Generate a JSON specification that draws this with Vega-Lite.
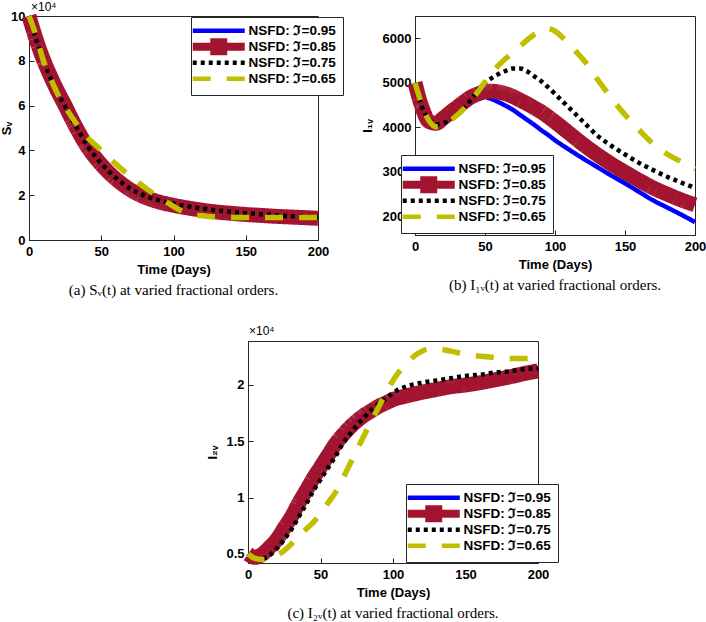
{
  "$schema": "https://vega.github.io/schema/vega-lite/v6.json",
  "background": "white",
  "padding": {"left": 0, "top": 0, "right": 0, "bottom": 0},
  "config": {
    "font": "Liberation Sans",
    "view": {"stroke": "#262626", "strokeWidth": 1},
    "axis": {
      "grid": false, "labelFont": "Liberation Sans", "labelFontSize": 13, "labelFontWeight": "bold", "labelColor": "black",
      "titleFont": "Liberation Sans", "titleFontSize": 13, "titleFontWeight": "bold", "titleColor": "black",
      "domainColor": "#262626", "tickColor": "#262626", "tickSize": -5, "labelFlush": false, "labelOverlap": false
    },
    "axisX": {"labelPadding": 10.5, "titlePadding": 5},
    "axisY": {"labelPadding": 9},
    "legend": {
      "fillColor": "white", "strokeColor": "#262626", "padding": 7, "rowPadding": -4.3, "gridAlign": "all",
      "symbolType": "M-13,0H13M0,-3.125M0,3.125", "symbolSize": 16, "symbolStrokeWidth": 4.5, "symbolOffset": 14, "labelOffset": 23,
      "labelFont": "Liberation Sans", "labelFontSize": 13.5, "labelFontWeight": "bold", "labelColor": "black", "labelLimit": 200
    }
  },
  "datasets": {
    "a": [
      {"t":0,"s":"0.95","v":100000},{"t":5,"s":"0.95","v":89500},{"t":10,"s":"0.95","v":80500},{"t":15,"s":"0.95","v":73000},{"t":20,"s":"0.95","v":66200},{"t":25,"s":"0.95","v":60000},{"t":30,"s":"0.95","v":53500},{"t":35,"s":"0.95","v":47500},{"t":40,"s":"0.95","v":42000},{"t":45,"s":"0.95","v":37500},{"t":50,"s":"0.95","v":33700},{"t":55,"s":"0.95","v":30300},{"t":60,"s":"0.95","v":27300},{"t":70,"s":"0.95","v":22500},{"t":80,"s":"0.95","v":19200},{"t":90,"s":"0.95","v":17000},{"t":100,"s":"0.95","v":15500},{"t":110,"s":"0.95","v":14300},{"t":120,"s":"0.95","v":13300},{"t":130,"s":"0.95","v":12500},{"t":140,"s":"0.95","v":11900},{"t":150,"s":"0.95","v":11400},{"t":160,"s":"0.95","v":11000},{"t":170,"s":"0.95","v":10600},{"t":180,"s":"0.95","v":10300},{"t":190,"s":"0.95","v":10000},{"t":200,"s":"0.95","v":9700},
      {"t":0,"s":"0.85","v":100000},{"t":5,"s":"0.85","v":89500},{"t":10,"s":"0.85","v":80500},{"t":15,"s":"0.85","v":73000},{"t":20,"s":"0.85","v":66200},{"t":25,"s":"0.85","v":60000},{"t":30,"s":"0.85","v":53500},{"t":35,"s":"0.85","v":47500},{"t":40,"s":"0.85","v":42000},{"t":45,"s":"0.85","v":37500},{"t":50,"s":"0.85","v":33700},{"t":55,"s":"0.85","v":30300},{"t":60,"s":"0.85","v":27300},{"t":70,"s":"0.85","v":22500},{"t":80,"s":"0.85","v":19200},{"t":90,"s":"0.85","v":17000},{"t":100,"s":"0.85","v":15500},{"t":110,"s":"0.85","v":14300},{"t":120,"s":"0.85","v":13300},{"t":130,"s":"0.85","v":12500},{"t":140,"s":"0.85","v":11900},{"t":150,"s":"0.85","v":11400},{"t":160,"s":"0.85","v":11000},{"t":170,"s":"0.85","v":10600},{"t":180,"s":"0.85","v":10300},{"t":190,"s":"0.85","v":10000},{"t":200,"s":"0.85","v":9700},
      {"t":0,"s":"0.75","v":100000},{"t":5,"s":"0.75","v":89500},{"t":10,"s":"0.75","v":80000},{"t":15,"s":"0.75","v":72200},{"t":20,"s":"0.75","v":65500},{"t":25,"s":"0.75","v":59500},{"t":30,"s":"0.75","v":53500},{"t":35,"s":"0.75","v":48000},{"t":40,"s":"0.75","v":42500},{"t":45,"s":"0.75","v":38000},{"t":50,"s":"0.75","v":34200},{"t":55,"s":"0.75","v":30800},{"t":60,"s":"0.75","v":27800},{"t":70,"s":"0.75","v":23000},{"t":80,"s":"0.75","v":19800},{"t":90,"s":"0.75","v":17700},{"t":100,"s":"0.75","v":16200},{"t":110,"s":"0.75","v":15000},{"t":120,"s":"0.75","v":14000},{"t":130,"s":"0.75","v":13200},{"t":140,"s":"0.75","v":12600},{"t":150,"s":"0.75","v":12000},{"t":160,"s":"0.75","v":11500},{"t":170,"s":"0.75","v":11100},{"t":180,"s":"0.75","v":10700},{"t":190,"s":"0.75","v":10400},{"t":200,"s":"0.75","v":10100},
      {"t":0,"s":"0.65","v":100000},{"t":5,"s":"0.65","v":91000},{"t":10,"s":"0.65","v":80000},{"t":15,"s":"0.65","v":72000},{"t":20,"s":"0.65","v":65000},{"t":25,"s":"0.65","v":59500},{"t":30,"s":"0.65","v":54500},{"t":35,"s":"0.65","v":50000},{"t":40,"s":"0.65","v":46000},{"t":45,"s":"0.65","v":43000},{"t":50,"s":"0.65","v":40000},{"t":55,"s":"0.65","v":37000},{"t":60,"s":"0.65","v":34000},{"t":65,"s":"0.65","v":31200},{"t":70,"s":"0.65","v":28600},{"t":75,"s":"0.65","v":26000},{"t":80,"s":"0.65","v":23500},{"t":85,"s":"0.65","v":21200},{"t":90,"s":"0.65","v":19000},{"t":95,"s":"0.65","v":17000},{"t":100,"s":"0.65","v":15000},{"t":105,"s":"0.65","v":13200},{"t":110,"s":"0.65","v":12000},{"t":115,"s":"0.65","v":11200},{"t":120,"s":"0.65","v":10800},{"t":130,"s":"0.65","v":10200},{"t":140,"s":"0.65","v":10000},{"t":150,"s":"0.65","v":10000},{"t":160,"s":"0.65","v":10000},{"t":170,"s":"0.65","v":10000},{"t":180,"s":"0.65","v":10000},{"t":190,"s":"0.65","v":10000},{"t":200,"s":"0.65","v":10000}
    ],
    "b": [
      {"t":0,"s":"0.95","v":5000},{"t":5,"s":"0.95","v":4450},{"t":10,"s":"0.95","v":4130},{"t":15,"s":"0.95","v":4090},{"t":20,"s":"0.95","v":4200},{"t":25,"s":"0.95","v":4330},{"t":30,"s":"0.95","v":4450},{"t":35,"s":"0.95","v":4570},{"t":40,"s":"0.95","v":4650},{"t":45,"s":"0.95","v":4690},{"t":50,"s":"0.95","v":4680},{"t":55,"s":"0.95","v":4630},{"t":60,"s":"0.95","v":4560},{"t":65,"s":"0.95","v":4480},{"t":70,"s":"0.95","v":4390},{"t":75,"s":"0.95","v":4280},{"t":80,"s":"0.95","v":4170},{"t":85,"s":"0.95","v":4060},{"t":90,"s":"0.95","v":3940},{"t":95,"s":"0.95","v":3830},{"t":100,"s":"0.95","v":3710},{"t":110,"s":"0.95","v":3500},{"t":120,"s":"0.95","v":3300},{"t":130,"s":"0.95","v":3110},{"t":140,"s":"0.95","v":2920},{"t":150,"s":"0.95","v":2740},{"t":160,"s":"0.95","v":2550},{"t":170,"s":"0.95","v":2360},{"t":180,"s":"0.95","v":2200},{"t":190,"s":"0.95","v":2040},{"t":200,"s":"0.95","v":1870},
      {"t":0,"s":"0.85","v":5000},{"t":5,"s":"0.85","v":4450},{"t":10,"s":"0.85","v":4130},{"t":15,"s":"0.85","v":4090},{"t":20,"s":"0.85","v":4200},{"t":25,"s":"0.85","v":4330},{"t":30,"s":"0.85","v":4450},{"t":35,"s":"0.85","v":4570},{"t":40,"s":"0.85","v":4680},{"t":45,"s":"0.85","v":4750},{"t":50,"s":"0.85","v":4800},{"t":55,"s":"0.85","v":4810},{"t":60,"s":"0.85","v":4790},{"t":65,"s":"0.85","v":4750},{"t":70,"s":"0.85","v":4690},{"t":75,"s":"0.85","v":4610},{"t":80,"s":"0.85","v":4530},{"t":85,"s":"0.85","v":4440},{"t":90,"s":"0.85","v":4350},{"t":95,"s":"0.85","v":4240},{"t":100,"s":"0.85","v":4120},{"t":110,"s":"0.85","v":3870},{"t":120,"s":"0.85","v":3620},{"t":130,"s":"0.85","v":3390},{"t":140,"s":"0.85","v":3180},{"t":150,"s":"0.85","v":2990},{"t":160,"s":"0.85","v":2810},{"t":170,"s":"0.85","v":2640},{"t":180,"s":"0.85","v":2500},{"t":190,"s":"0.85","v":2370},{"t":200,"s":"0.85","v":2260},
      {"t":0,"s":"0.75","v":5000},{"t":5,"s":"0.75","v":4450},{"t":10,"s":"0.75","v":4180},{"t":15,"s":"0.75","v":4070},{"t":20,"s":"0.75","v":4090},{"t":25,"s":"0.75","v":4180},{"t":30,"s":"0.75","v":4280},{"t":35,"s":"0.75","v":4430},{"t":40,"s":"0.75","v":4620},{"t":45,"s":"0.75","v":4830},{"t":50,"s":"0.75","v":5000},{"t":55,"s":"0.75","v":5110},{"t":60,"s":"0.75","v":5200},{"t":65,"s":"0.75","v":5270},{"t":70,"s":"0.75","v":5320},{"t":75,"s":"0.75","v":5320},{"t":80,"s":"0.75","v":5260},{"t":85,"s":"0.75","v":5150},{"t":90,"s":"0.75","v":5040},{"t":95,"s":"0.75","v":4900},{"t":100,"s":"0.75","v":4750},{"t":110,"s":"0.75","v":4440},{"t":120,"s":"0.75","v":4130},{"t":130,"s":"0.75","v":3820},{"t":140,"s":"0.75","v":3590},{"t":150,"s":"0.75","v":3390},{"t":160,"s":"0.75","v":3200},{"t":170,"s":"0.75","v":3040},{"t":180,"s":"0.75","v":2890},{"t":190,"s":"0.75","v":2760},{"t":200,"s":"0.75","v":2640},
      {"t":0,"s":"0.65","v":5000},{"t":5,"s":"0.65","v":4500},{"t":10,"s":"0.65","v":4150},{"t":15,"s":"0.65","v":4010},{"t":20,"s":"0.65","v":4030},{"t":25,"s":"0.65","v":4150},{"t":30,"s":"0.65","v":4270},{"t":35,"s":"0.65","v":4420},{"t":40,"s":"0.65","v":4600},{"t":45,"s":"0.65","v":4800},{"t":50,"s":"0.65","v":5020},{"t":55,"s":"0.65","v":5220},{"t":60,"s":"0.65","v":5400},{"t":65,"s":"0.65","v":5550},{"t":70,"s":"0.65","v":5680},{"t":75,"s":"0.65","v":5820},{"t":80,"s":"0.65","v":5960},{"t":85,"s":"0.65","v":6080},{"t":90,"s":"0.65","v":6180},{"t":95,"s":"0.65","v":6220},{"t":100,"s":"0.65","v":6160},{"t":105,"s":"0.65","v":6030},{"t":110,"s":"0.65","v":5870},{"t":115,"s":"0.65","v":5700},{"t":120,"s":"0.65","v":5530},{"t":130,"s":"0.65","v":5090},{"t":140,"s":"0.65","v":4670},{"t":150,"s":"0.65","v":4280},{"t":160,"s":"0.65","v":3940},{"t":170,"s":"0.65","v":3630},{"t":180,"s":"0.65","v":3400},{"t":190,"s":"0.65","v":3230},{"t":200,"s":"0.65","v":3060}
    ],
    "c": [
      {"t":0,"s":"0.95","v":5000},{"t":5,"s":"0.95","v":4700},{"t":10,"s":"0.95","v":5000},{"t":15,"s":"0.95","v":5600},{"t":20,"s":"0.95","v":6300},{"t":25,"s":"0.95","v":7300},{"t":30,"s":"0.95","v":8300},{"t":35,"s":"0.95","v":9500},{"t":40,"s":"0.95","v":10600},{"t":45,"s":"0.95","v":11700},{"t":50,"s":"0.95","v":12700},{"t":55,"s":"0.95","v":13700},{"t":60,"s":"0.95","v":14700},{"t":65,"s":"0.95","v":15500},{"t":70,"s":"0.95","v":16200},{"t":75,"s":"0.95","v":16800},{"t":80,"s":"0.95","v":17300},{"t":85,"s":"0.95","v":17700},{"t":90,"s":"0.95","v":18100},{"t":95,"s":"0.95","v":18400},{"t":100,"s":"0.95","v":18700},{"t":110,"s":"0.95","v":19050},{"t":120,"s":"0.95","v":19350},{"t":130,"s":"0.95","v":19600},{"t":140,"s":"0.95","v":19850},{"t":150,"s":"0.95","v":20000},{"t":160,"s":"0.95","v":20200},{"t":170,"s":"0.95","v":20450},{"t":180,"s":"0.95","v":20700},{"t":190,"s":"0.95","v":21000},{"t":200,"s":"0.95","v":21250},
      {"t":0,"s":"0.85","v":5000},{"t":5,"s":"0.85","v":4700},{"t":10,"s":"0.85","v":5000},{"t":15,"s":"0.85","v":5600},{"t":20,"s":"0.85","v":6300},{"t":25,"s":"0.85","v":7300},{"t":30,"s":"0.85","v":8300},{"t":35,"s":"0.85","v":9500},{"t":40,"s":"0.85","v":10600},{"t":45,"s":"0.85","v":11700},{"t":50,"s":"0.85","v":12700},{"t":55,"s":"0.85","v":13700},{"t":60,"s":"0.85","v":14700},{"t":65,"s":"0.85","v":15500},{"t":70,"s":"0.85","v":16200},{"t":75,"s":"0.85","v":16800},{"t":80,"s":"0.85","v":17300},{"t":85,"s":"0.85","v":17700},{"t":90,"s":"0.85","v":18100},{"t":95,"s":"0.85","v":18400},{"t":100,"s":"0.85","v":18700},{"t":110,"s":"0.85","v":19050},{"t":120,"s":"0.85","v":19350},{"t":130,"s":"0.85","v":19600},{"t":140,"s":"0.85","v":19850},{"t":150,"s":"0.85","v":20000},{"t":160,"s":"0.85","v":20200},{"t":170,"s":"0.85","v":20450},{"t":180,"s":"0.85","v":20700},{"t":190,"s":"0.85","v":21000},{"t":200,"s":"0.85","v":21250},
      {"t":0,"s":"0.75","v":5000},{"t":5,"s":"0.75","v":4600},{"t":10,"s":"0.75","v":4600},{"t":15,"s":"0.75","v":4900},{"t":20,"s":"0.75","v":5500},{"t":25,"s":"0.75","v":6300},{"t":30,"s":"0.75","v":7200},{"t":35,"s":"0.75","v":8300},{"t":40,"s":"0.75","v":9400},{"t":45,"s":"0.75","v":10600},{"t":50,"s":"0.75","v":11600},{"t":55,"s":"0.75","v":12600},{"t":60,"s":"0.75","v":13600},{"t":65,"s":"0.75","v":14700},{"t":70,"s":"0.75","v":15600},{"t":75,"s":"0.75","v":16400},{"t":80,"s":"0.75","v":17100},{"t":85,"s":"0.75","v":17800},{"t":90,"s":"0.75","v":18300},{"t":95,"s":"0.75","v":18800},{"t":100,"s":"0.75","v":19300},{"t":110,"s":"0.75","v":19900},{"t":120,"s":"0.75","v":20200},{"t":130,"s":"0.75","v":20400},{"t":140,"s":"0.75","v":20600},{"t":150,"s":"0.75","v":20800},{"t":160,"s":"0.75","v":20900},{"t":170,"s":"0.75","v":21100},{"t":180,"s":"0.75","v":21200},{"t":190,"s":"0.75","v":21400},{"t":200,"s":"0.75","v":21500},
      {"t":0,"s":"0.65","v":5000},{"t":5,"s":"0.65","v":4600},{"t":10,"s":"0.65","v":4500},{"t":15,"s":"0.65","v":4600},{"t":20,"s":"0.65","v":4900},{"t":25,"s":"0.65","v":5300},{"t":30,"s":"0.65","v":5900},{"t":35,"s":"0.65","v":6600},{"t":40,"s":"0.65","v":7200},{"t":45,"s":"0.65","v":7800},{"t":50,"s":"0.65","v":8600},{"t":55,"s":"0.65","v":9500},{"t":60,"s":"0.65","v":10400},{"t":65,"s":"0.65","v":11600},{"t":70,"s":"0.65","v":12900},{"t":75,"s":"0.65","v":14200},{"t":80,"s":"0.65","v":15500},{"t":85,"s":"0.65","v":16800},{"t":90,"s":"0.65","v":18000},{"t":95,"s":"0.65","v":19300},{"t":100,"s":"0.65","v":20400},{"t":105,"s":"0.65","v":21300},{"t":110,"s":"0.65","v":22000},{"t":115,"s":"0.65","v":22600},{"t":120,"s":"0.65","v":23000},{"t":125,"s":"0.65","v":23200},{"t":130,"s":"0.65","v":23200},{"t":140,"s":"0.65","v":23000},{"t":150,"s":"0.65","v":22700},{"t":160,"s":"0.65","v":22550},{"t":170,"s":"0.65","v":22450},{"t":180,"s":"0.65","v":22350},{"t":190,"s":"0.65","v":22350},{"t":200,"s":"0.65","v":22400}
    ]
  },
  "spacing": 26,
  "resolve": {"scale": {"color": "independent", "strokeDash": "independent"}},
  "vconcat": [
    {
      "spacing": 97,
      "bounds": "flush",
      "resolve": {"scale": {"color": "independent", "strokeDash": "independent"}},
      "hconcat": [
        {
          "width": 289, "height": 224,
          "title": {"text": "(a) Sᵥ(t) at varied fractional orders.", "orient": "bottom", "anchor": "middle", "offset": 6, "font": "Liberation Serif", "fontSize": 15, "fontWeight": "normal", "color": "black"},
          "layer": [
            {
              "data": {"name": "a"}, "transform": [{"filter": "datum.s == '0.95'"}],
              "mark": {"type": "line", "interpolate": "monotone", "strokeJoin": "round", "strokeWidth": 4.5},
              "encoding": {
                "x": {"field": "t", "type": "quantitative", "scale": {"domain": [0, 200], "nice": false}, "axis": {"title": "Time (Days)", "values": [0, 50, 100, 150, 200], "format": "d"}},
                "y": {"field": "v", "type": "quantitative", "scale": {"domain": [0, 100000], "nice": false}, "axis": {"title": "Sᵥ", "values": [0, 20000, 40000, 60000, 80000, 100000], "labelExpr": "datum.value / 10000", "titlePadding": -3}},
                "color": {"field": "s", "type": "nominal", "scale": {"domain": ["0.95", "0.85", "0.75", "0.65"], "range": ["#0000FF", "#A2142F", "#000000", "#BFBF00"]},
                  "legend": {"title": null, "orient": "none", "legendX": 162, "legendY": 1, "labelExpr": "'NSFD: ℑ=' + datum.label",
                    "encode": {"symbols": {"update": {"strokeJoin": {"value": "round"}, "shape": {"signal": "datum.value == '0.85' ? 'M-13,-0.875H13M-13,0H13M-13,0.875H13M-4.25,-3.125H4.25M-4.25,-2H4.25M-4.25,-1H4.25M-4.25,1H4.25M-4.25,2H4.25M-4.25,3.125H4.25' : 'M-13,0H13M0,-3.125M0,3.125'"}}}}}},
                "strokeDash": {"field": "s", "type": "nominal", "scale": {"domain": ["0.95", "0.85", "0.75", "0.65"], "range": [[1, 0], [1, 0], [4, 4], [18, 16]]}}
              }
            },
            {
              "data": {"name": "a"}, "transform": [{"filter": "datum.s == '0.85'"}],
              "mark": {"type": "line", "interpolate": "monotone", "strokeJoin": "round", "strokeWidth": 15},
              "encoding": {"x": {"field": "t", "type": "quantitative"}, "y": {"field": "v", "type": "quantitative"}, "color": {"field": "s", "type": "nominal", "legend": null}, "strokeDash": {"field": "s", "type": "nominal", "legend": null}}
            },
            {
              "data": {"name": "a"}, "transform": [{"filter": "datum.s == '0.75'"}],
              "mark": {"type": "line", "interpolate": "monotone", "strokeJoin": "round", "strokeWidth": 4.5},
              "encoding": {"x": {"field": "t", "type": "quantitative"}, "y": {"field": "v", "type": "quantitative"}, "color": {"field": "s", "type": "nominal", "legend": null}, "strokeDash": {"field": "s", "type": "nominal", "legend": null}}
            },
            {
              "data": {"name": "a"}, "transform": [{"filter": "datum.s == '0.65'"}],
              "mark": {"type": "line", "interpolate": "monotone", "strokeJoin": "round", "strokeWidth": 5.5},
              "encoding": {"x": {"field": "t", "type": "quantitative"}, "y": {"field": "v", "type": "quantitative"}, "color": {"field": "s", "type": "nominal", "legend": null}, "strokeDash": {"field": "s", "type": "nominal", "legend": null}}
            },
            {
              "data": {"values": [{}]},
              "mark": {"type": "text", "align": "left", "baseline": "bottom", "dx": 2, "dy": -2, "font": "Liberation Sans", "fontSize": 12, "color": "black"},
              "encoding": {"x": {"datum": 0}, "y": {"datum": 100000}, "text": {"value": "×10⁴"}}
            }
          ]
        },
        {
          "width": 280, "height": 219,
          "title": {"text": "(b) I₁ᵥ(t) at varied fractional orders.", "orient": "bottom", "anchor": "middle", "offset": 6, "font": "Liberation Serif", "fontSize": 15, "fontWeight": "normal", "color": "black"},
          "data": {"name": "b"},
          "encoding": {
            "x": {"field": "t", "type": "quantitative", "scale": {"domain": [0, 200], "nice": false}, "axis": {"title": "Time (Days)", "values": [0, 50, 100, 150, 200], "format": "d"}},
            "y": {"field": "v", "type": "quantitative", "scale": {"domain": [1580, 6500], "nice": false}, "axis": {"title": "I₁ᵥ", "values": [2000, 3000, 4000, 5000, 6000], "format": "d", "titlePadding": 8}}
          },
          "layer": [
            {
              "transform": [{"filter": "datum.s == '0.95'"}],
              "mark": {"type": "line", "interpolate": "monotone", "strokeJoin": "round", "strokeWidth": 4.5},
              "encoding": {
                "color": {"field": "s", "type": "nominal", "scale": {"domain": ["0.95", "0.85", "0.75", "0.65"], "range": ["#0000FF", "#A2142F", "#000000", "#BFBF00"]},
                  "legend": {"title": null, "orient": "none", "legendX": -14, "legendY": 139, "labelExpr": "'NSFD: ℑ=' + datum.label",
                    "encode": {"symbols": {"update": {"strokeJoin": {"value": "round"}, "shape": {"signal": "datum.value == '0.85' ? 'M-13,-0.875H13M-13,0H13M-13,0.875H13M-4.25,-3.125H4.25M-4.25,-2H4.25M-4.25,-1H4.25M-4.25,1H4.25M-4.25,2H4.25M-4.25,3.125H4.25' : 'M-13,0H13M0,-3.125M0,3.125'"}}}}}},
                "strokeDash": {"field": "s", "type": "nominal", "scale": {"domain": ["0.95", "0.85", "0.75", "0.65"], "range": [[1, 0], [1, 0], [4, 4], [18, 16]]}}
              }
            },
            {
              "transform": [{"filter": "datum.s == '0.85'"}],
              "mark": {"type": "line", "interpolate": "monotone", "strokeJoin": "round", "strokeWidth": 15},
              "encoding": {"color": {"field": "s", "type": "nominal", "legend": null}, "strokeDash": {"field": "s", "type": "nominal", "legend": null}}
            },
            {
              "transform": [{"filter": "datum.s == '0.75'"}],
              "mark": {"type": "line", "interpolate": "monotone", "strokeJoin": "round", "strokeWidth": 4.5},
              "encoding": {"color": {"field": "s", "type": "nominal", "legend": null}, "strokeDash": {"field": "s", "type": "nominal", "legend": null}}
            },
            {
              "transform": [{"filter": "datum.s == '0.65'"}],
              "mark": {"type": "line", "interpolate": "monotone", "strokeJoin": "round", "strokeWidth": 5.5},
              "encoding": {"color": {"field": "s", "type": "nominal", "legend": null}, "strokeDash": {"field": "s", "type": "nominal", "legend": null}}
            }
          ]
        }
      ]
    },
    {
      "spacing": 119,
      "bounds": "flush",
      "resolve": {"scale": {"color": "independent", "strokeDash": "independent"}},
      "hconcat": [
        {
          "width": 100, "height": 10,
          "data": {"values": []},
          "mark": "point",
          "view": {"stroke": null}
        },
        {
          "width": 290, "height": 222,
          "title": {"text": "(c) I₂ᵥ(t) at varied fractional orders.", "orient": "bottom", "anchor": "middle", "offset": 6, "font": "Liberation Serif", "fontSize": 15, "fontWeight": "normal", "color": "black"},
          "layer": [
            {
              "data": {"name": "c"}, "transform": [{"filter": "datum.s == '0.95'"}],
              "mark": {"type": "line", "interpolate": "monotone", "strokeJoin": "round", "strokeWidth": 4.5},
              "encoding": {
                "x": {"field": "t", "type": "quantitative", "scale": {"domain": [0, 200], "nice": false}, "axis": {"title": "Time (Days)", "values": [0, 50, 100, 150, 200], "format": "d"}},
                "y": {"field": "v", "type": "quantitative", "scale": {"domain": [4200, 23900], "nice": false}, "axis": {"title": "I₂ᵥ", "values": [5000, 10000, 15000, 20000], "labelExpr": "datum.value / 10000", "titlePadding": 6}},
                "color": {"field": "s", "type": "nominal", "scale": {"domain": ["0.95", "0.85", "0.75", "0.65"], "range": ["#0000FF", "#A2142F", "#000000", "#BFBF00"]},
                  "legend": {"title": null, "orient": "none", "legendX": 158, "legendY": 143, "labelExpr": "'NSFD: ℑ=' + datum.label",
                    "encode": {"symbols": {"update": {"strokeJoin": {"value": "round"}, "shape": {"signal": "datum.value == '0.85' ? 'M-13,-0.875H13M-13,0H13M-13,0.875H13M-4.25,-3.125H4.25M-4.25,-2H4.25M-4.25,-1H4.25M-4.25,1H4.25M-4.25,2H4.25M-4.25,3.125H4.25' : 'M-13,0H13M0,-3.125M0,3.125'"}}}}}},
                "strokeDash": {"field": "s", "type": "nominal", "scale": {"domain": ["0.95", "0.85", "0.75", "0.65"], "range": [[1, 0], [1, 0], [4, 4], [18, 16]]}}
              }
            },
            {
              "data": {"name": "c"}, "transform": [{"filter": "datum.s == '0.85'"}],
              "mark": {"type": "line", "interpolate": "monotone", "strokeJoin": "round", "strokeWidth": 15},
              "encoding": {"x": {"field": "t", "type": "quantitative"}, "y": {"field": "v", "type": "quantitative"}, "color": {"field": "s", "type": "nominal", "legend": null}, "strokeDash": {"field": "s", "type": "nominal", "legend": null}}
            },
            {
              "data": {"name": "c"}, "transform": [{"filter": "datum.s == '0.75'"}],
              "mark": {"type": "line", "interpolate": "monotone", "strokeJoin": "round", "strokeWidth": 4.5},
              "encoding": {"x": {"field": "t", "type": "quantitative"}, "y": {"field": "v", "type": "quantitative"}, "color": {"field": "s", "type": "nominal", "legend": null}, "strokeDash": {"field": "s", "type": "nominal", "legend": null}}
            },
            {
              "data": {"name": "c"}, "transform": [{"filter": "datum.s == '0.65'"}],
              "mark": {"type": "line", "interpolate": "monotone", "strokeJoin": "round", "strokeWidth": 5.5},
              "encoding": {"x": {"field": "t", "type": "quantitative"}, "y": {"field": "v", "type": "quantitative"}, "color": {"field": "s", "type": "nominal", "legend": null}, "strokeDash": {"field": "s", "type": "nominal", "legend": null}}
            },
            {
              "data": {"values": [{}]},
              "mark": {"type": "text", "align": "left", "baseline": "bottom", "dx": 1, "dy": -3, "font": "Liberation Sans", "fontSize": 12, "color": "black"},
              "encoding": {"x": {"datum": 0}, "y": {"datum": 23900}, "text": {"value": "×10⁴"}}
            }
          ]
        }
      ]
    }
  ]
}
